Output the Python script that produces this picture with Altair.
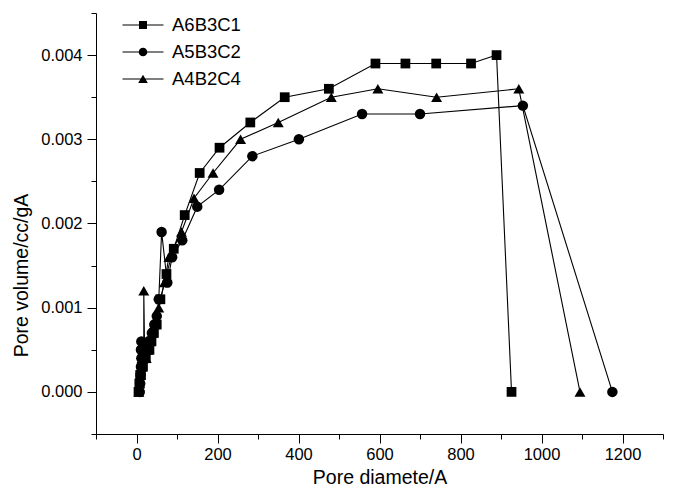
import altair as alt
import pandas as pd

series_names = ["A6B3C1", "A5B3C2", "A4B2C4"]
series_shapes = ["square", "circle", "triangle-up"]
series_sizes = [95, 110, 120]

a6_x = [5, 7, 9, 11, 13, 16, 19, 23, 27, 32, 37, 43, 50, 59, 74, 92, 119, 156, 205, 281, 366, 475, 590, 664, 740, 826, 889, 926]
a6_y = [0.0000, 0.0001, 0.0002, 0.0002, 0.0003, 0.0003, 0.0004, 0.0004, 0.0005, 0.0005, 0.0006, 0.0007, 0.0008, 0.0011,
        0.0014, 0.0017, 0.0021, 0.0026, 0.0029, 0.0032, 0.0035, 0.0036, 0.0039, 0.0039, 0.0039, 0.0039, 0.0040, 0.0000]

a5_x = [8, 9, 10, 11, 12, 11, 12, 18, 24, 30, 38, 44, 50, 55, 62, 76, 88, 113, 150, 204, 286, 401, 557, 700, 954, 1175]
a5_y = [0.0000, 0.0001, 0.0002, 0.0003, 0.0004, 0.0005, 0.0006, 0.0004, 0.0005, 0.0006, 0.0007, 0.0008, 0.0009, 0.0011,
        0.0019, 0.0013, 0.0016, 0.0018, 0.0022, 0.0024, 0.0028, 0.0030, 0.0033, 0.0033, 0.0034, 0.0000]

a4_x = [6, 8, 10, 12, 15, 18, 18, 20, 24, 28, 33, 39, 46, 55, 69, 80, 111, 142, 189, 257, 350, 481, 596, 741, 944, 1095]
a4_y = [0.0000, 0.0001, 0.0002, 0.0003, 0.0004, 0.0006, 0.0012, 0.0005, 0.0004, 0.0005, 0.0006, 0.0007, 0.0008, 0.0010,
        0.0013, 0.0016, 0.0019, 0.0023, 0.0026, 0.0030, 0.0032, 0.0035, 0.0036, 0.0035, 0.0036, 0.0000]

x_major = [0, 200, 400, 600, 800, 1000, 1200]
x_minor = [-100, 100, 300, 500, 700, 900, 1100, 1300]
y_major = [0.000, 0.001, 0.002, 0.003, 0.004]
y_minor = [-0.0005, 0.0005, 0.0015, 0.0025, 0.0035, 0.0045]

rows = []
for name, xs, ys in [(series_names[0], a6_x, a6_y), (series_names[1], a5_x, a5_y), (series_names[2], a4_x, a4_y)]:
    for i, (xv, yv) in enumerate(zip(xs, ys)):
        rows.append({"series": name, "d": xv, "v": yv, "i": i})
df = pd.DataFrame(rows)

FONT = "Liberation Sans"
xscale = alt.Scale(domain=[-100, 1300], nice=False, zero=False)
yscale = alt.Scale(domain=[-0.0005, 0.0045], nice=False, zero=False)

x_axis = alt.Axis(values=x_major, format="d", title="Pore diamete/A", tickSize=9, labelPadding=3, titlePadding=6,
                  orient="bottom")
y_axis = alt.Axis(values=y_major, title="Pore volume/cc/gA", format=".3f", tickSize=9, labelPadding=5,
                  titlePadding=9, orient="left", titleY=262)

base = alt.Chart(df)
X = alt.X("d:Q", scale=xscale, axis=x_axis)
Y = alt.Y("v:Q", scale=yscale, axis=y_axis)

line = base.mark_line(color="black", strokeWidth=1.1).encode(x=X, y=Y, detail="series:N", order="i:Q")

point_layers = [
    base.transform_filter(alt.datum.series == name).mark_point(
        filled=True, color="black", opacity=1, shape=shp, size=sz
    ).encode(x=X, y=Y)
    for name, shp, sz in zip(series_names, series_shapes, series_sizes)
]

# legend glyphs: a thin bar (the line sample) plus the marker, all filled, clockwise
BAR = "M-1.28,-0.034L1.28,-0.034L1.28,0.034L-1.28,0.034Z"
legend_paths = [
    BAR + "M-0.25,-0.25L0.25,-0.25L0.25,0.25L-0.25,0.25Z",
    BAR + "M0.27,0A0.27,0.27,0,1,1,-0.27,0A0.27,0.27,0,1,1,0.27,0Z",
    BAR + "M0,-0.27L0.3,0.25L-0.3,0.25Z",
]

legend_layer = base.transform_filter("false").mark_point(
    filled=True, fill="black", size=1024, opacity=1
).encode(
    x=X, y=Y,
    shape=alt.Shape("series:N", scale=alt.Scale(domain=series_names, range=legend_paths),
                    legend=alt.Legend(title=None, orient="none", legendX=31, legendY=-4, padding=0,
                                      labelFont=FONT, labelFontSize=18.5, labelColor="black", labelOffset=13,
                                      symbolFillColor="black", symbolSize=1024, symbolStrokeWidth=0,
                                      symbolOpacity=1, rowPadding=1)),
)

main = alt.layer(line, *point_layers, legend_layer)

minor = base.mark_point(opacity=0).encode(
    x=alt.X("d:Q", scale=xscale, axis=alt.Axis(values=x_minor, labels=False, tickSize=5, domain=False, title=None,
                                                orient="bottom", grid=False)),
    y=alt.Y("v:Q", scale=yscale, axis=alt.Axis(values=y_minor, labels=False, tickSize=5, domain=False, title=None,
                                                orient="left", grid=False)),
)

chart = alt.layer(minor, main).resolve_axis(x="independent", y="independent").properties(
    width=567, height=421,
    autosize=alt.AutoSizeParams(type="none"),
    padding={"left": 96, "top": 13, "right": 11, "bottom": 60},
).configure_view(stroke=None).configure_axis(
    grid=False, domainColor="black", tickColor="black", labelColor="black", titleColor="black",
    labelFont=FONT, titleFont=FONT, labelFontSize=16.5, titleFontSize=19.5, titleFontWeight="normal",
    domainWidth=1, tickWidth=1,
).configure_legend(labelFont=FONT)

chart.save("out.html", embed_options={"renderer": "svg", "actions": False})
